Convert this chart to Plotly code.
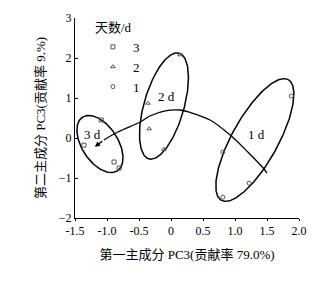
import numpy as np
import plotly.graph_objects as go

# ---- data ----
day3_x = [-1.09, -1.36, -0.89, -0.81]
day3_y = [0.45, -0.18, -0.60, -0.75]
day2_x = [0.14, -0.36, -0.34, -0.11]
day2_y = [2.08, 0.87, 0.23, -0.28]
day1_x = [1.88, 0.81, 1.22, 0.81]
day1_y = [1.05, -0.35, -1.13, -1.48]

# trajectory 1d -> 2d -> 3d
traj_x = [1.50, 1.44, 1.20, 0.92, 0.61, 0.30, 0.14, -0.09, -0.33, -0.48, -0.83, -1.05]
traj_y = [-0.88, -0.75, -0.35, 0.08, 0.45, 0.64, 0.70, 0.68, 0.55, 0.40, 0.15, -0.05]
arrow_head = (-1.19, -0.22)

# ellipses: centre (data), semi-axes (screen px), angle (deg)
ell_cx = [-1.11, -0.11, 1.31]
ell_cy = [-0.15, 0.80, -0.05]
ell_a = [32, 55, 69]
ell_b = [18, 20, 23]
ell_ang = [123, 74, 61]

labels = ["3 d", "2 d", "1 d"]
label_x = [-1.23, -0.07, 1.34]
label_y = [0.08, 1.03, 0.10]

xticks = [-1.5, -1.0, -0.5, 0, 0.5, 1.0, 1.5, 2.0]
xtick_text = ["-1.5", "-1.0", "-0.5", "0", "0.5", "1.0", "1.5", "2.0"]
yticks = [-2, -1, 0, 1, 2, 3]

# ---- layout geometry ----
W, H = 325, 283
ML, MR, MT, MB = 75, 26, 18, 65
XR = [-1.5, 2.0]
YR = [-2, 3]
PX = (W - ML - MR) / (XR[1] - XR[0])
PY = (H - MT - MB) / (YR[1] - YR[0])

FONT = "Liberation Serif, Times New Roman, Noto Sans CJK SC, serif"

fig = go.Figure()

t = np.linspace(0, 2 * np.pi, 200)
for cx, cy, a, b, ang in zip(ell_cx, ell_cy, ell_a, ell_b, ell_ang):
    th = np.deg2rad(ang)
    u = a * np.cos(t) * np.cos(th) - b * np.sin(t) * np.sin(th)
    v = a * np.cos(t) * np.sin(th) + b * np.sin(t) * np.cos(th)
    fig.add_trace(go.Scatter(x=cx + u / PX, y=cy + v / PY, mode="lines",
                             line=dict(color="black", width=1.5),
                             showlegend=False, hoverinfo="skip"))

fig.add_trace(go.Scatter(x=traj_x, y=traj_y, mode="lines",
                         line=dict(color="black", width=1.3, shape="spline"),
                         showlegend=False, hoverinfo="skip"))
fig.add_annotation(x=arrow_head[0], y=arrow_head[1], ax=traj_x[-1], ay=traj_y[-1],
                   xref="x", yref="y", axref="x", ayref="y", text="",
                   showarrow=True, arrowhead=2, arrowsize=0.8, arrowwidth=1.3,
                   arrowcolor="black")

mk = dict(size=4, color="#555555", line=dict(width=1, color="#555555"))
fig.add_trace(go.Scatter(x=day3_x, y=day3_y, mode="markers", name="3",
                         marker=dict(symbol="square-open", **mk)))
fig.add_trace(go.Scatter(x=day2_x, y=day2_y, mode="markers", name="2",
                         marker=dict(symbol="triangle-up-open", **mk)))
fig.add_trace(go.Scatter(x=day1_x, y=day1_y, mode="markers", name="1",
                         marker=dict(symbol="circle-open", **mk)))

for txt, lx, ly in zip(labels, label_x, label_y):
    fig.add_annotation(x=lx, y=ly, text=txt, showarrow=False,
                       font=dict(family=FONT, size=13, color="black"))

fig.update_layout(
    width=W, height=H,
    margin=dict(l=ML, r=MR, t=MT, b=MB),
    paper_bgcolor="white", plot_bgcolor="white",
    font=dict(family=FONT, size=12, color="black"),
    legend=dict(title=dict(text="天数/d", font=dict(size=13)),
                x=0.08, y=1.015, xanchor="left", yanchor="top",
                bgcolor="rgba(0,0,0,0)", font=dict(size=13),
                itemwidth=30, tracegroupgap=0),
    xaxis=dict(range=XR, tickvals=xticks, ticktext=xtick_text,
               showgrid=False, zeroline=False, showline=True,
               linecolor="black", linewidth=1, ticks="outside", ticklen=2,
               tickcolor="black",
               title=dict(text="第一主成分 PC3(贡献率 79.0%)",
                          font=dict(size=13), standoff=12)),
    yaxis=dict(range=YR, tickvals=yticks, showgrid=False, zeroline=False,
               showline=True, linecolor="black", linewidth=1,
               ticks="inside", ticklen=3, tickcolor="black",
               title=dict(text="第二主成分 PC3(贡献率 9.%)",
                          font=dict(size=13), standoff=10)),
)

fig.write_html("out.html")
